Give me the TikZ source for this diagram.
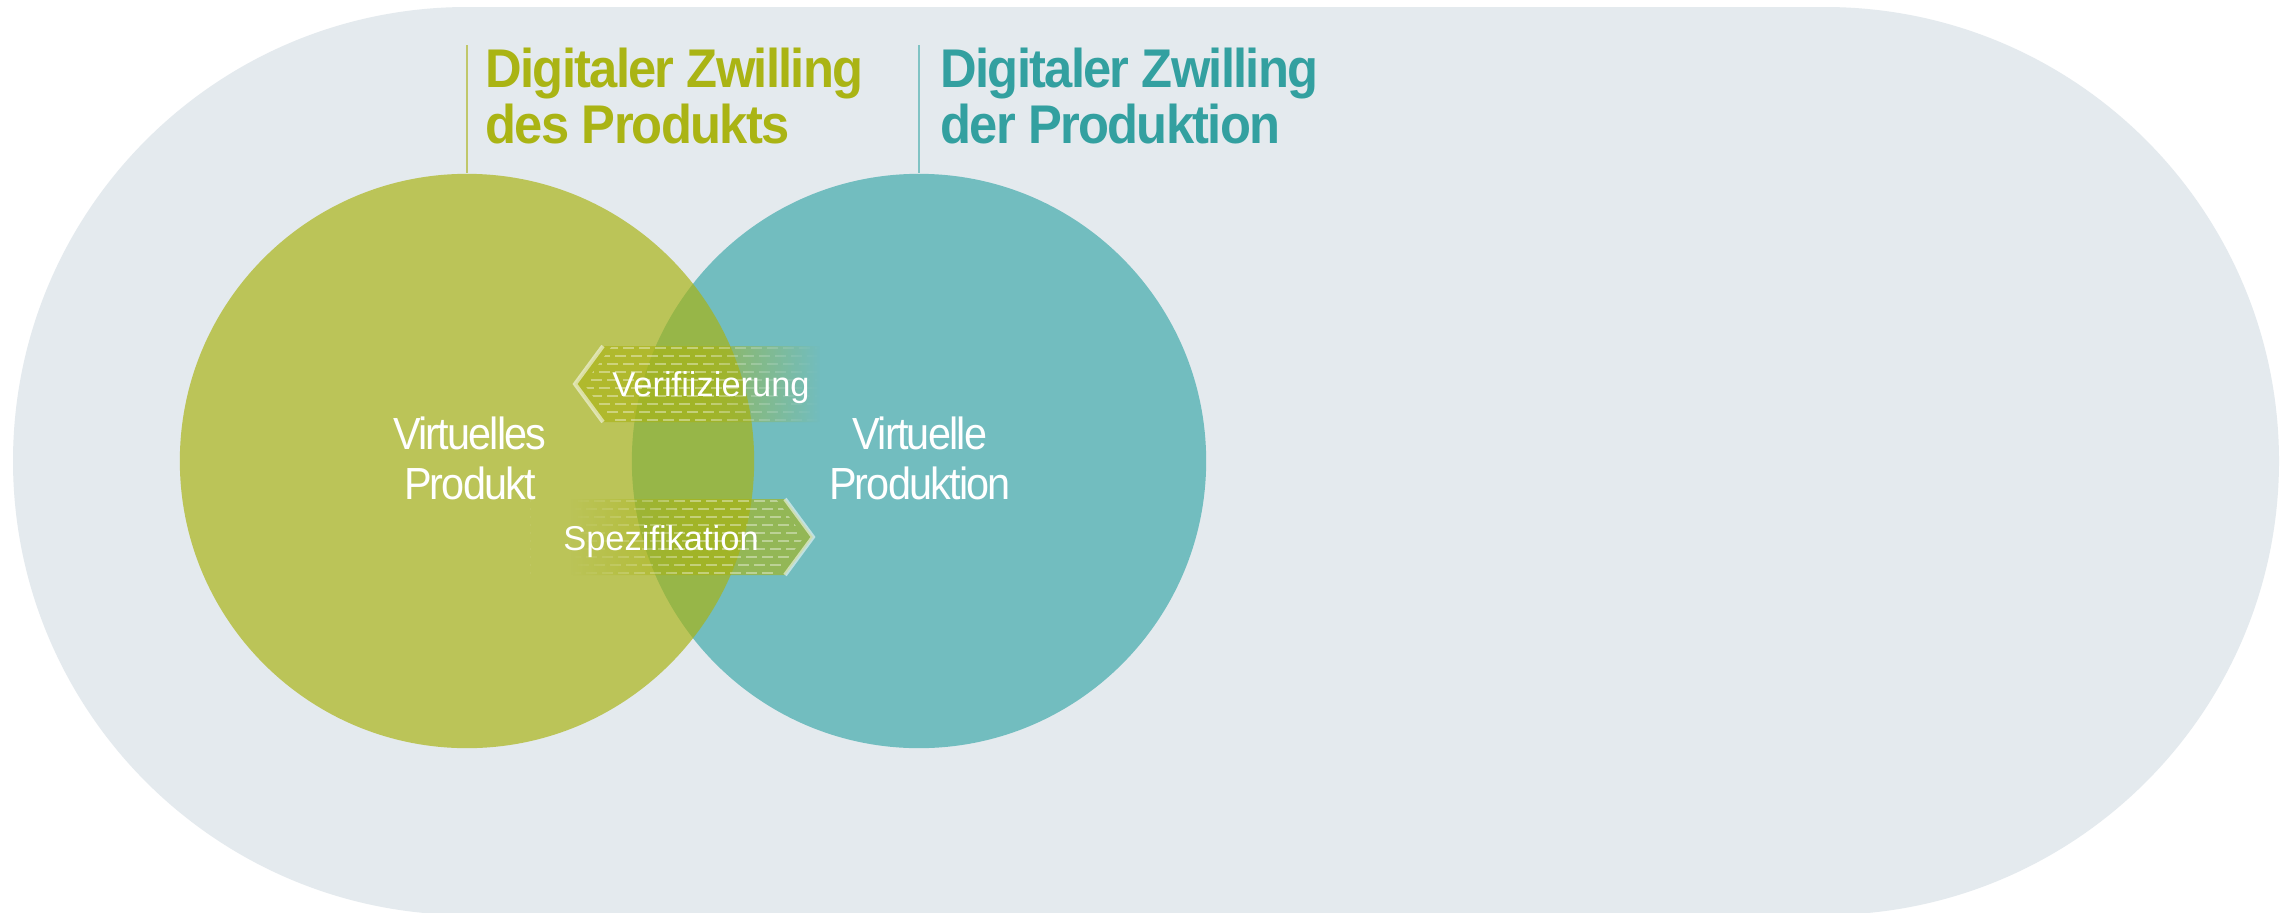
\documentclass[tikz,border=0pt]{standalone}
\usepackage{fontspec}
\setmainfont{Liberation Sans}
\newfontfamily\titlefont[FakeStretch=0.93,LetterSpace=-3.2]{Liberation Sans}
\newfontfamily\labelfont[FakeStretch=0.92,LetterSpace=-4]{Liberation Sans}
\usetikzlibrary{fadings}
\definecolor{bgc}{HTML}{E4EAEE}
\definecolor{tgreen}{HTML}{AAB414}
\definecolor{tteal}{HTML}{33A0A0}
\definecolor{cgreen}{HTML}{A9B311}
\definecolor{cteal}{HTML}{72BDBF}
\definecolor{lgreen}{HTML}{C0C76A}
\definecolor{lteal}{HTML}{80C3C4}

\begin{tikzfadingfrompicture}[name=fadeL]
\fill[transparent!0] (-1.6,-0.6) rectangle (0,0.6);
\shade[left color=transparent!0,right color=transparent!100] (0,-0.6) rectangle (1.2,0.6);
\fill[transparent!100] (1.2,-0.6) rectangle (1.6,0.6);
\end{tikzfadingfrompicture}
\begin{tikzfadingfrompicture}[name=fadeR]
\fill[transparent!100] (-1.6,-0.6) rectangle (-1.2,0.6);
\shade[left color=transparent!100,right color=transparent!0] (-1.2,-0.6) rectangle (0,0.6);
\fill[transparent!0] (0,-0.6) rectangle (1.6,0.6);
\end{tikzfadingfrompicture}

\begin{document}
\begin{tikzpicture}[x=0.01cm,y=-0.01cm,
  lbl/.style={text=white, align=center, inner sep=0pt, font=\labelfont\fontsize{12.8}{14.2}\selectfont},
  ttl/.style={anchor=north west, align=left, inner sep=0pt, font=\titlefont\bfseries\fontsize{15.5}{16.1}\selectfont},
  arrlbl/.style={text=white, inner sep=0pt, anchor=base, font=\fontsize{9.8}{11}\selectfont},
  dashrow/.style={draw=white, draw opacity=0.38, line width=0.02cm, dash pattern=on 0.11cm off 0.05cm},
  chev/.style={draw=white, draw opacity=0.55, line width=0.04cm, line join=miter},
  bandfill/.style={fill=cgreen, fill opacity=0.6},
  bigcirc/.style={circle, minimum size=5.74cm, inner sep=0pt}
]
\useasboundingbox (0,0) rectangle (2288,912);
\fill[white] (0,0) rectangle (2288,912);
\begin{scope}
\clip (0,0) rectangle (2288,912);
\fill[bgc, rounded corners=4.54cm] (13,7) rectangle (2279,915);
\end{scope}

% circles
\node[bigcirc, fill=cteal] (cprodn) at (919,461) {};
\node[bigcirc, fill=cgreen, fill opacity=0.68] (cprod) at (467,461) {};

% title lines
\coordinate (l1) at (467,45);
\coordinate (l2) at (919,45);
\draw[lgreen, line width=0.02cm] (l1) -- (cprod.north);
\draw[lteal, line width=0.02cm] (l2) -- (cprodn.north);

\node[ttl, text=tgreen] (t1) at (485,47) {Digitaler Zwilling\\des Produkts};
\node[ttl, text=tteal] (t2) at (940,47) {Digitaler Zwilling\\der Produktion};

% Verifiizierung band (pointing left)
\fill[bandfill, path fading=fadeL, fit fading=false, fading transform={shift={(7cm,-3.84cm)}}]
  (603,346) -- (575,384) -- (603,422) -- (830,422) -- (830,346) -- cycle;
\begin{scope}
\clip (612,346) -- (584,384) -- (612,422) -- (840,422) -- (840,346) -- cycle;
\draw[dashrow, path fading=fadeL, fit fading=false, fading transform={shift={(7cm,-3.84cm)}}]
  \foreach \yy in {348,364,380,396,412}{(575,\yy) -- (840,\yy)};
\draw[dashrow, dash phase=0.08cm, path fading=fadeL, fit fading=false, fading transform={shift={(7cm,-3.84cm)}}]
  \foreach \yy in {356,372,388,404,420}{(575,\yy) -- (840,\yy)};
\end{scope}
\draw[chev] (603,346) -- (575,384) -- (603,422);

% Spezifikation band (pointing right)
\fill[bandfill, path fading=fadeR, fit fading=false, fading transform={shift={(6.9cm,-5.37cm)}}]
  (560,499) -- (785,499) -- (813,537) -- (785,575) -- (560,575) -- cycle;
\begin{scope}
\clip (530,499) -- (776,499) -- (804,537) -- (776,575) -- (530,575) -- cycle;
\draw[dashrow, path fading=fadeR, fit fading=false, fading transform={shift={(6.9cm,-5.37cm)}}]
  \foreach \yy in {501,517,533,549,565}{(530,\yy) -- (810,\yy)};
\draw[dashrow, dash phase=0.08cm, path fading=fadeR, fit fading=false, fading transform={shift={(6.9cm,-5.37cm)}}]
  \foreach \yy in {509,525,541,557,573}{(530,\yy) -- (810,\yy)};
\end{scope}
\draw[chev] (785,499) -- (813,537) -- (785,575);

% labels
\node[lbl] (vp) at (470,458) {Virtuelles\\Produkt};
\node[lbl] (vpn) at (920,458) {Virtuelle\\Produktion};
\node[arrlbl] (verif) at (711,396) {Verifiizierung};
\node[arrlbl] (spez) at (661,550) {Spezifikation};
\end{tikzpicture}
\end{document}
